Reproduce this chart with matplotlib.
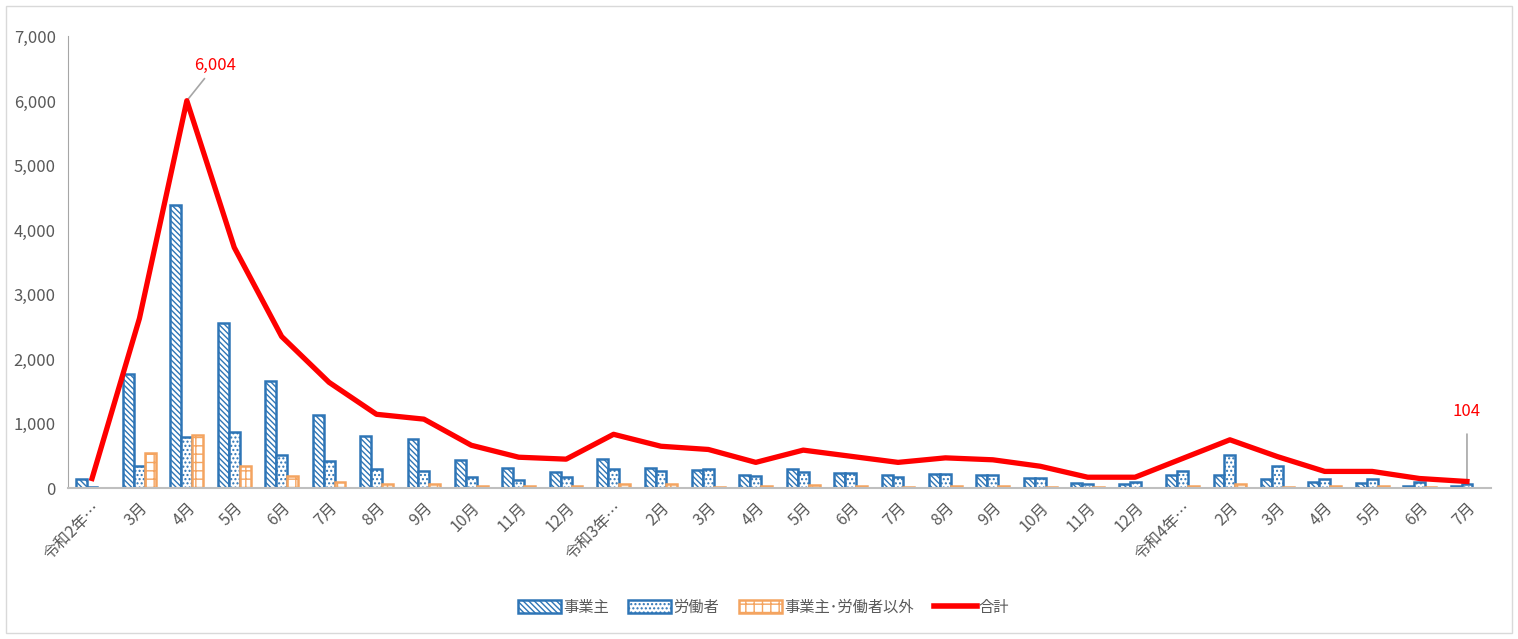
import matplotlib.pyplot as plt
import matplotlib.patches as mpatches
from matplotlib.lines import Line2D
import numpy as np

plt.rcParams['font.family'] = ['Noto Sans CJK JP', 'DejaVu Sans']
plt.rcParams['hatch.linewidth'] = 1.0

months = ["令和2年…", "3月", "4月", "5月", "6月", "7月", "8月", "9月", "10月", "11月", "12月",
          "令和3年…", "2月", "3月", "4月", "5月", "6月", "7月", "8月", "9月", "10月", "11月", "12月",
          "令和4年…", "2月", "3月", "4月", "5月", "6月", "7月"]
jigyonushi = [140, 1770, 4390, 2560, 1660, 1130, 810, 760, 430, 320, 250,
              460, 320, 280, 200, 290, 240, 200, 220, 200, 160, 80, 70,
              200, 200, 140, 100, 80, 40, 30]
rodosha = [15, 340, 800, 870, 520, 420, 300, 260, 170, 130, 170,
           300, 270, 300, 190, 250, 230, 180, 220, 200, 160, 60, 90,
           260, 520, 340, 150, 150, 90, 60]
sonota = [10, 550, 820, 340, 190, 100, 60, 60, 40, 30, 30,
          60, 60, 20, 30, 50, 30, 20, 30, 30, 20, 15, 10,
          40, 60, 20, 30, 30, 15, 10]
total = [150, 2630, 6004, 3730, 2350, 1640, 1145, 1070, 665, 480, 450,
         835, 650, 600, 400, 590, 495, 400, 470, 440, 340, 170, 170,
         460, 750, 490, 260, 260, 150, 104]

blue = "#2E75B6"
orange = "#F4A460"
gray = "#595959"
h_diag = "\\\\\\\\\\\\"
h_dot = "...."
h_grid = "++"

fig = plt.figure(figsize=(15.18, 6.39), dpi=100)
ax = fig.add_axes([0.045, 0.236, 0.937, 0.707])

x = np.arange(len(months))
w = 0.23
ax.bar(x - w, jigyonushi, w, facecolor="white", edgecolor=blue, hatch=h_diag, linewidth=1.8)
ax.bar(x, rodosha, w, facecolor="white", edgecolor=blue, hatch=h_dot, linewidth=1.8)
ax.bar(x + w, sonota, w, facecolor="white", edgecolor=orange, hatch=h_grid, linewidth=1.8)
ax.plot(x, total, color="#FF0000", linewidth=3.8, solid_joinstyle="round", zorder=5)

ax.set_ylim(0, 7000)
ax.set_xlim(-0.5, len(months) - 0.5)
ax.set_yticks(range(0, 7001, 1000))
ax.set_yticklabels([f"{v:,}" for v in range(0, 7001, 1000)], color=gray, fontsize=12)
ax.set_xticks(x)
ax.set_xticklabels(months, rotation=45, ha="right", rotation_mode="anchor", color=gray, fontsize=11.5)
ax.tick_params(axis="x", length=0, pad=8)
ax.tick_params(axis="y", length=0, pad=9)
for s in ["top", "right"]:
    ax.spines[s].set_visible(False)
ax.spines["left"].set_color("#A6A6A6")
ax.spines["bottom"].set_color("#BFBFBF")
ax.spines["bottom"].set_linewidth(1.5)

ax.annotate(f"{total[2]:,}", xy=(x[2], total[2]), xytext=(x[2] + 0.6, total[2] + 420),
            color="#FF0000", fontsize=12, ha="center", va="bottom",
            arrowprops=dict(arrowstyle="-", color="#A6A6A6", lw=1.2, shrinkA=2, shrinkB=0))
ax.annotate(f"{total[-1]:,}", xy=(x[-1], total[-1]), xytext=(x[-1], total[-1] + 950),
            color="#FF0000", fontsize=12, ha="center", va="bottom",
            arrowprops=dict(arrowstyle="-", color="#A6A6A6", lw=1.2, shrinkA=8, shrinkB=0))

handles = [
    mpatches.Patch(facecolor="white", edgecolor=blue, hatch=h_diag, linewidth=1.8, label="事業主"),
    mpatches.Patch(facecolor="white", edgecolor=blue, hatch=h_dot, linewidth=1.8, label="労働者"),
    mpatches.Patch(facecolor="white", edgecolor=orange, hatch=h_grid, linewidth=1.8, label="事業主･労働者以外"),
    Line2D([0], [0], color="#FF0000", linewidth=4, label="合計"),
]
leg = fig.legend(handles=handles, loc="center", bbox_to_anchor=(0.503, 0.05), ncol=4, frameon=False,
                 fontsize=11, handlelength=2.8, handleheight=0.9, handletextpad=0.15, columnspacing=1.3)
for t in leg.get_texts():
    t.set_color(gray)

fig.add_artist(mpatches.Rectangle((0.004, 0.01), 0.992, 0.98, transform=fig.transFigure,
                                  fill=False, edgecolor="#D9D9D9", linewidth=1))

fig.savefig("out.png", dpi=100)
